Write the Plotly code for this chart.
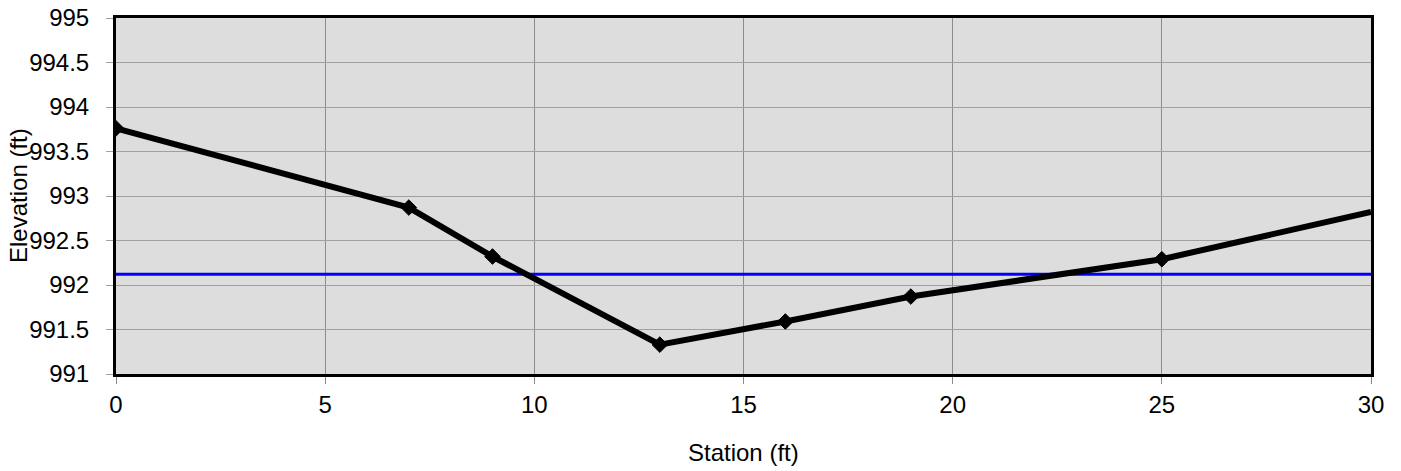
import plotly.graph_objects as go

station = [0, 7, 9, 13, 16, 19, 25, 30]
elevation = [993.76, 992.87, 992.32, 991.33, 991.59, 991.87, 992.29, 992.82]
marker_size = [12, 12, 12, 12, 12, 12, 12, 0]
water_x = [0, 30]
water_y = [992.12, 992.12]

x_ticks = [0, 5, 10, 15, 20, 25, 30]
y_ticks = [991, 991.5, 992, 992.5, 993, 993.5, 994, 994.5, 995]
y_tick_text = ["991", "991.5", "992", "992.5", "993", "993.5", "994", "994.5", "995"]

FONT = "Liberation Sans, Arial, sans-serif"
FS = 24

fig = go.Figure()
fig.add_trace(go.Scatter(x=water_x, y=water_y, mode="lines",
                         line=dict(color="#0000FF", width=3), hoverinfo="skip"))
fig.add_trace(go.Scatter(x=station, y=elevation, mode="lines+markers",
                         line=dict(color="black", width=6),
                         marker=dict(symbol="diamond", size=marker_size, color="black",
                                     opacity=1, line=dict(width=1, color="black")),
                         cliponaxis=True))

fig.update_layout(
    width=1401, height=471,
    autosize=False,
    margin=dict(l=116, r=30, t=18, b=97, pad=0, autoexpand=False),
    paper_bgcolor="white", plot_bgcolor="#DDDDDD",
    showlegend=False,
    font=dict(family=FONT, size=FS, color="black"),
    annotations=[
        dict(text="Station (ft)", xref="paper", yref="paper", x=0.5, y=0,
             yshift=-78, xanchor="center", yanchor="middle", showarrow=False,
             font=dict(family=FONT, size=FS)),
        dict(text="Elevation (ft)", xref="paper", yref="paper", x=0, y=0.5,
             xshift=-98, xanchor="center", yanchor="middle", textangle=-90,
             showarrow=False, font=dict(family=FONT, size=FS)),
    ],
)
fig.update_xaxes(range=[0, 30], tickvals=x_ticks, showgrid=True, gridcolor="#8C8C8C",
                 gridwidth=1, zeroline=False, showline=True, linecolor="black",
                 linewidth=3, mirror=True, ticks="outside", ticklen=7, automargin=False,
                 tickcolor="#8C8C8C", tickfont=dict(family=FONT, size=FS))
fig.update_yaxes(range=[991, 995], tickvals=y_ticks, ticktext=y_tick_text,
                 showgrid=True, gridcolor="#A0A0A0", gridwidth=1, zeroline=False,
                 showline=True, linecolor="black", linewidth=3, mirror=True,
                 ticks="outside", ticklen=7, tickcolor="#A0A0A0", automargin=False,
                 ticklabelstandoff=12,
                 tickfont=dict(family=FONT, size=FS))

fig.write_html("out.html",
               config={"displayModeBar": False},
               post_script="document.body.style.margin='0';document.body.style.overflow='hidden';")
